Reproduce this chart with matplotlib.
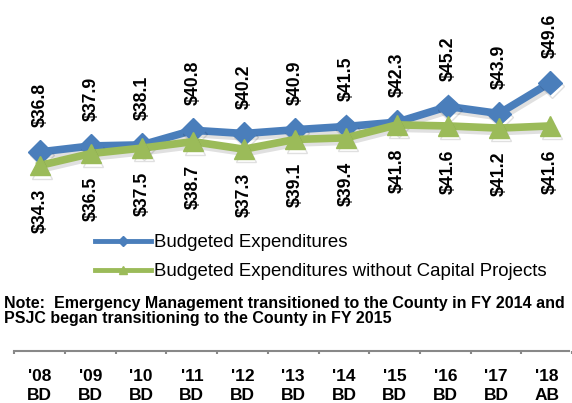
import matplotlib
matplotlib.use("Agg")
import matplotlib.pyplot as plt
import matplotlib.patheffects as pe
from matplotlib.lines import Line2D

plt.rcParams["font.family"] = ["Liberation Sans", "DejaVu Sans"]

# datos del grafico
anios = ["'08\nBD", "'09\nBD", "'10\nBD", "'11\nBD", "'12\nBD", "'13\nBD",
         "'14\nBD", "'15\nBD", "'16\nBD", "'17\nBD", "'18\nAB"]
gastos = [36.8, 37.9, 38.1, 40.8, 40.2, 40.9, 41.5, 42.3, 45.2, 43.9, 49.6]
gastos_sin_capital = [34.3, 36.5, 37.5, 38.7, 37.3, 39.1, 39.4, 41.8, 41.6, 41.2, 41.6]

AZUL = "#4A7EBB"
VERDE = "#9BBB59"
GRIS = "#888888"

fig = plt.figure(figsize=(5.72, 4.03), dpi=100)
W, H = 572, 403
xlim = (-40 / 51, 532 / 51)

# ---- lineas ----
ax = fig.add_axes([0, 1 - 240 / H, 1, 240 / H])
ax.set_xlim(*xlim)
ax.set_ylim(20.5, 64.9)
ax.axis("off")

x = list(range(len(anios)))
sombra = [pe.SimpleLineShadow(offset=(1.5, -2.5), alpha=0.12, shadow_color="black"),
          pe.Normal()]
ax.plot(x, gastos, color=AZUL, lw=5.5, marker="D", markersize=12,
        path_effects=sombra, zorder=3)
ax.plot(x, gastos_sin_capital, color=VERDE, lw=5.5, marker="^", markersize=14,
        path_effects=sombra, zorder=4)

for i, v in enumerate(gastos):
    ax.annotate(f"${v:.1f}", (i, v), xytext=(0, 18), textcoords="offset points",
                ha="center", va="bottom", rotation=90, fontsize=12.7,
                fontweight="bold")
for i, v in enumerate(gastos_sin_capital):
    ax.annotate(f"${v:.1f}", (i, v), xytext=(0, -17), textcoords="offset points",
                ha="center", va="top", rotation=90, fontsize=12.7,
                fontweight="bold")

# leyenda
handles = [
    Line2D([], [], color=AZUL, lw=3.5, marker="D", markersize=5),
    Line2D([], [], color=VERDE, lw=3.5, marker="^", markersize=6),
]
fig.legend(handles, ["Budgeted Expenditures",
                     "Budgeted Expenditures without Capital Projects"],
           loc="upper left", bbox_to_anchor=(95 / W, 1 - 234 / H),
           frameon=False, fontsize=13.4, handlelength=3.0,
           handletextpad=0.15, borderpad=0, borderaxespad=0,
           labelspacing=0.65)

# nota
fig.text(4 / W, 1 - 311 / H,
         "Note:  Emergency Management transitioned to the County in FY 2014 and\n"
         "PSJC began transitioning to the County in FY 2015",
         ha="left", va="center", fontsize=11.5, fontweight="bold",
         linespacing=0.95)

# ---- eje de categorias ----
ax2 = fig.add_axes([0, 1 - 351 / H, 1, 0.01])
ax2.set_xlim(*xlim)
for lado in ["top", "left", "right"]:
    ax2.spines[lado].set_visible(False)
ax2.spines["bottom"].set_color(GRIS)
ax2.spines["bottom"].set_linewidth(1.5)
ax2.spines["bottom"].set_bounds(-0.5, xlim[1])
ax2.set_yticks([])
ax2.set_xticks(x)
ax2.set_xticklabels(anios, fontsize=12.5, fontweight="bold", linespacing=1.3)
ax2.set_xticks([i - 0.5 for i in range(len(anios) + 1)], minor=True)
ax2.tick_params(axis="x", which="major", length=0, pad=13)
ax2.tick_params(axis="x", which="minor", length=2.5, width=1.5, color=GRIS,
                direction="out")

fig.savefig("out.png", dpi=100)
